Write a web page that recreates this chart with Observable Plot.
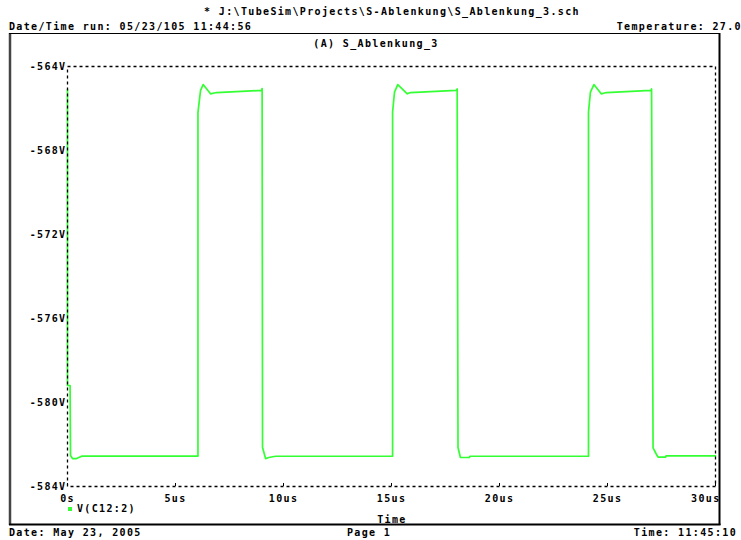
<!DOCTYPE html>
<html>
<head>
<meta charset="utf-8">
<script src="https://cdn.jsdelivr.net/npm/d3@7"></script>
<script src="https://cdn.jsdelivr.net/npm/@observablehq/plot@0.6"></script>
<style>
  html, body { margin: 0; padding: 0; background: #fff; }
  #chart svg text { letter-spacing: 1.35px; }
</style>
</head>
<body>
<div id="chart"></div>
<script>
// ---- data ----
const timeUs = [
  0, 0, 0.12, 0.14, 0.23, 0.42, 0.68,
  6.04, 6.04, 6.16, 6.28, 6.62, 6.90, 8.98, 9.01, 9.03, 9.17, 9.32, 9.63,
  15.05, 15.05, 15.14, 15.29, 15.73, 15.88, 17.99, 18.04, 18.08, 18.19, 18.61, 18.63,
  24.12, 24.12, 24.21, 24.37, 24.71, 24.95, 27.01, 27.04, 27.11, 27.25, 27.34, 27.69, 27.71,
  30.0
];
const voltsV = [
  -565.10, -579.19, -579.19, -582.52, -582.67, -582.67, -582.55,
  -582.55, -566.18, -565.14, -564.86, -565.30, -565.24, -565.14, -565.05, -582.14, -582.67, -582.62, -582.56,
  -582.56, -566.18, -565.22, -564.86, -565.30, -565.24, -565.14, -565.07, -582.14, -582.62, -582.62, -582.56,
  -582.56, -566.18, -565.22, -564.86, -565.30, -565.24, -565.14, -565.07, -582.16, -582.44, -582.60, -582.60, -582.54,
  -582.54
];
const yTicks = [-564, -568, -572, -576, -580, -584];
const yTickLabels = ["-564V", "-568V", "-572V", "-576V", "-580V", "-584V"];
const xTicks = [0, 5, 10, 15, 20, 25, 30];
const xTickLabels = ["0s", "5us", "10us", "15us", "20us", "25us", "30us"];
const seriesName = "V(C12:2)";
const fileTitle = "* J:\\TubeSim\\Projects\\S-Ablenkung\\S_Ablenkung_3.sch";
const runLine = "Date/Time run: 05/23/105 11:44:56";
const tempLine = "Temperature: 27.0";
const plotTitle = "(A) S_Ablenkung_3";
const xTitle = "Time";
const footLeft = "Date: May 23, 2005";
const footMid = "Page 1";
const footRight = "Time: 11:45:10";

const data = timeUs.map((t, i) => ({t, v: voltsV[i]}));
const green = "#33ff33";
const font = "'DejaVu Sans Mono', monospace";

const lastTick = xTicks[xTicks.length - 1];
const chart = Plot.plot({
  width: 741,
  height: 540,
  marginLeft: 67,
  marginTop: 66,
  marginRight: 26,
  marginBottom: 54,
  style: {fontFamily: font, fontSize: "10px", fontWeight: "bold", background: "#fff", color: "#000"},
  x: {domain: [0, 30], label: null},
  y: {domain: [-584, -564], label: null},
  marks: [
    Plot.line(data, {x: "t", y: "v", stroke: green, strokeWidth: 1.7}),
    Plot.frame({stroke: "#000", strokeWidth: 1.3, strokeDasharray: "3,3"}),
    Plot.axisY(yTicks, {tickSize: 0, tickPadding: 1, fontSize: 10, fill: "#000", label: null,
      tickFormat: d => yTickLabels[yTicks.indexOf(d)]}),
    Plot.axisX(xTicks, {tickSize: -3, tickFormat: () => "", stroke: "#000", label: null}),
    Plot.text(xTicks.filter(d => d !== lastTick), {x: d => d, frameAnchor: "bottom", dy: 8,
      lineAnchor: "top", text: d => xTickLabels[xTicks.indexOf(d)], fontSize: 10, fill: "#000"}),
    Plot.text([lastTick], {x: d => d, frameAnchor: "bottom", dy: 8, dx: 5, textAnchor: "end",
      lineAnchor: "top", text: d => xTickLabels[xTicks.indexOf(d)], fontSize: 10, fill: "#000"})
  ]
});
document.getElementById("chart").appendChild(chart);

// ---- page furniture (header, border, legend, footer) ----
const svg = d3.select(chart);
const g = svg.append("g").attr("font-family", font).attr("font-size", 10).attr("font-weight", "bold").attr("fill", "#000");
function txt(x, y, s, anchor) {
  g.append("text").attr("x", x).attr("y", y).attr("text-anchor", anchor || "start").text(s);
}
txt(392, 15, fileTitle, "middle");
txt(9, 30, runLine);
txt(742, 30, tempLine, "end");
txt(376, 47, plotTitle, "middle");
txt(392, 523, xTitle, "middle");
txt(9, 536, footLeft);
txt(347, 536, footMid);
txt(737, 536, footRight, "end");

// legend
g.append("rect").attr("x", 68).attr("y", 507).attr("width", 4).attr("height", 4).attr("fill", green);
txt(77, 512, seriesName);

// outer border
const b = svg.append("g").attr("stroke", "#000").attr("fill", "none");
b.append("line").attr("x1", 10).attr("x2", 10).attr("y1", 33).attr("y2", 525).attr("stroke-width", 2.5).attr("stroke", "#444");
b.append("line").attr("x1", 9).attr("x2", 720).attr("y1", 33.5).attr("y2", 33.5).attr("stroke-width", 1);
b.append("line").attr("x1", 719.5).attr("x2", 719.5).attr("y1", 33).attr("y2", 525).attr("stroke-width", 2);
b.append("line").attr("x1", 9).attr("x2", 720.5).attr("y1", 524.5).attr("y2", 524.5).attr("stroke-width", 2);
</script>
</body>
</html>
